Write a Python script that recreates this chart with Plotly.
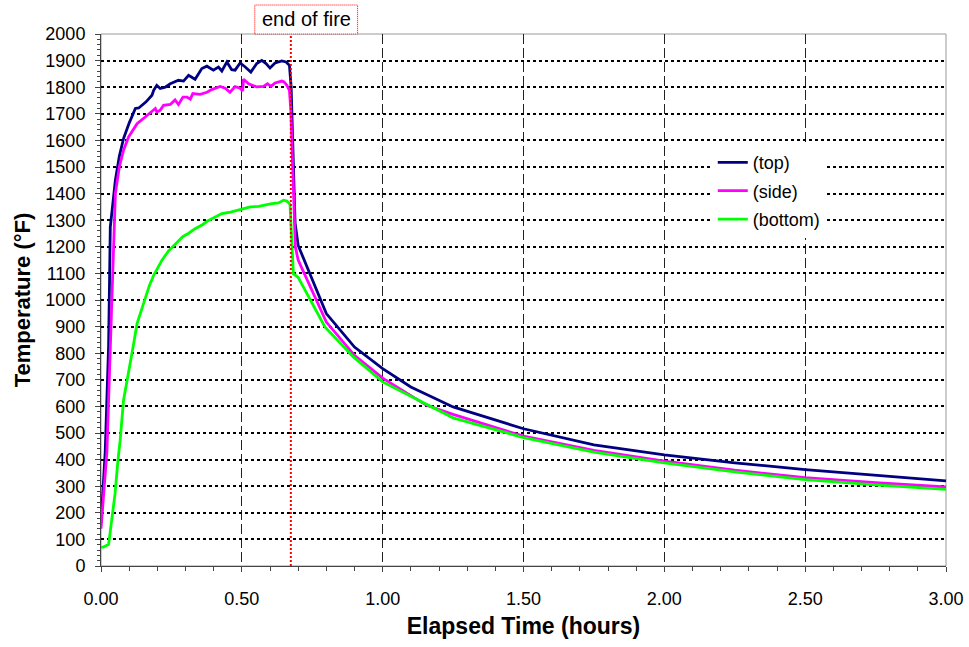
import plotly.graph_objects as go

# ---- data (hours, °F) ----
top_time = [0.000, 0.015, 0.027, 0.033, 0.051, 0.065, 0.080, 0.100, 0.122, 0.134, 0.160, 0.181, 0.187, 0.198,
            0.210, 0.228, 0.246, 0.275, 0.293, 0.311, 0.334, 0.358, 0.376, 0.399, 0.417, 0.429, 0.447, 0.464,
            0.476, 0.494, 0.512, 0.532, 0.553, 0.571, 0.586, 0.600, 0.618, 0.642, 0.657, 0.669, 0.675, 0.683,
            0.689, 0.700, 0.800, 0.900, 0.955, 1.000, 1.100, 1.250, 1.500, 1.750, 2.000, 2.250, 2.500, 2.750, 3.000]
top_temp = [160, 430, 830, 1274, 1450, 1540, 1607, 1665, 1720, 1722, 1745, 1770, 1788, 1807,
            1795, 1800, 1813, 1826, 1823, 1845, 1830, 1870, 1879, 1864, 1876, 1861, 1895, 1866,
            1864, 1891, 1876, 1857, 1889, 1901, 1889, 1872, 1891, 1899, 1895, 1882, 1801, 1480,
            1290, 1205, 949, 823, 780, 742, 673, 598, 516, 455, 418, 388, 362, 340, 320]

side_time = [0.000, 0.021, 0.037, 0.045, 0.051, 0.065, 0.080, 0.098, 0.128, 0.157, 0.181, 0.193, 0.198, 0.210,
             0.222, 0.246, 0.263, 0.275, 0.291, 0.305, 0.317, 0.326, 0.352, 0.376, 0.393, 0.423, 0.441, 0.458,
             0.476, 0.494, 0.503, 0.506, 0.524, 0.553, 0.577, 0.591, 0.603, 0.618, 0.642, 0.650, 0.660, 0.669,
             0.674, 0.685, 0.690, 0.700, 0.800, 0.900, 1.000, 1.156, 1.250, 1.500, 1.750, 2.000, 2.250, 2.500,
             2.750, 3.000]
side_temp = [140, 430, 949, 1199, 1400, 1500, 1563, 1613, 1663, 1688, 1707, 1720, 1707, 1713,
             1732, 1735, 1752, 1735, 1763, 1763, 1755, 1776, 1773, 1781, 1791, 1803, 1796, 1781,
             1802, 1796, 1786, 1830, 1813, 1801, 1803, 1813, 1803, 1816, 1823, 1820, 1807, 1788,
             1713, 1350, 1200, 1150, 917, 792, 706, 604, 570, 488, 435, 394, 360, 332,
             313, 297]

bot_time = [0.000, 0.010, 0.027, 0.040, 0.050, 0.060, 0.068, 0.080, 0.098, 0.115, 0.128, 0.145, 0.157, 0.172,
            0.187, 0.200, 0.216, 0.240, 0.263, 0.275, 0.290, 0.310, 0.334, 0.360, 0.380, 0.400, 0.429, 0.460,
            0.500, 0.530, 0.560, 0.590, 0.606, 0.630, 0.648, 0.660, 0.671, 0.683, 0.700, 0.795, 0.896, 1.000,
            1.250, 1.500, 1.750, 2.000, 2.250, 2.500, 2.750, 3.000]
bot_temp = [70, 72, 81, 180, 273, 395, 472, 623, 723, 830, 911, 970, 1011, 1055,
            1093, 1118, 1149, 1185, 1212, 1222, 1238, 1250, 1268, 1283, 1298, 1308, 1325, 1330,
            1340, 1350, 1352, 1360, 1362, 1365, 1375, 1372, 1360, 1099, 1085, 899, 786, 692,
            557, 483, 428, 388, 354, 325, 305, 288]

series_names = ["(top)", "(side)", "(bottom)"]
series_colors = ["#000080", "#FF00FF", "#00FF00"]
fire_end = 0.674
fire_label = "end of fire"

FONT = "Liberation Sans, Arial, sans-serif"

fig = go.Figure()
for i, (t, v) in enumerate([(top_time, top_temp), (side_time, side_temp), (bot_time, bot_temp)]):
    fig.add_trace(go.Scatter(x=t, y=v, mode="lines", name=series_names[i],
                             legendgroup=series_names[i],
                             line=dict(color=series_colors[i], width=2.8)))

# end-of-fire marker line
fig.add_shape(type="line", xref="x", yref="paper", x0=fire_end, x1=fire_end, y0=0, y1=1,
              line=dict(color="#FF0000", width=2, dash="2px,2px"), layer="above")
# label box (dotted red frame)
fig.add_shape(type="rect", xref="x", yref="paper", x0=0.546, x1=0.911, y0=1.0, y1=1.0545,
              line=dict(color="#FF0000", width=1, dash="1px,1px"), fillcolor="white", layer="above")
fig.add_annotation(x=0.7285, y=1.028, xref="x", yref="paper", text=fire_label, showarrow=False,
                   font=dict(family=FONT, size=20, color="#000"), yanchor="middle", xanchor="center")

# gray plot frame (top/right)
fig.add_shape(type="rect", xref="paper", yref="paper", x0=0, x1=1, y0=0, y1=1,
              line=dict(color="#999", width=1), layer="below")

fig.update_layout(
    width=969, height=647,
    margin=dict(l=101, r=23, t=34, b=81, autoexpand=False),
    plot_bgcolor="white", paper_bgcolor="white",
    font=dict(family=FONT, size=18, color="#000"),
    showlegend=True,
    legend=dict(x=0.724, y=0.793, xanchor="left", yanchor="top", bgcolor="white",
                borderwidth=0, font=dict(family=FONT, size=18, color="#000"),
                traceorder="grouped", tracegroupgap=2),
    xaxis=dict(range=[0, 3], dtick=0.5, tick0=0, tickformat=".2f", automargin=False,
               showgrid=True, gridcolor="#222", gridwidth=1, griddash="10px,4px",
               zeroline=False, showline=True, linecolor="#444", linewidth=1,
               ticks="outside", ticklen=5, tickcolor="#444", ticklabelstandoff=11,
               tickfont=dict(family=FONT, size=18),
               minor=dict(dtick=0.1, ticks="outside", ticklen=4, tickcolor="#444", showgrid=False),
               title=dict(text="<b>Elapsed Time (hours)</b>", font=dict(family=FONT, size=23), standoff=10)),
    yaxis=dict(range=[0, 2000], dtick=100, tick0=0, automargin=False,
               showgrid=True, gridcolor="#000", gridwidth=2, griddash="3px,3px",
               zeroline=False, showline=True, linecolor="#444", linewidth=1,
               ticks="outside", ticklen=5, tickcolor="#444", ticklabelstandoff=6,
               tickfont=dict(family=FONT, size=18),
               minor=dict(dtick=20, ticks="outside", ticklen=3, tickcolor="#444", showgrid=False),
               title=dict(text="<b>Temperature (°F)</b>", font=dict(family=FONT, size=22), standoff=8)),
)

fig.write_html("out.html")
